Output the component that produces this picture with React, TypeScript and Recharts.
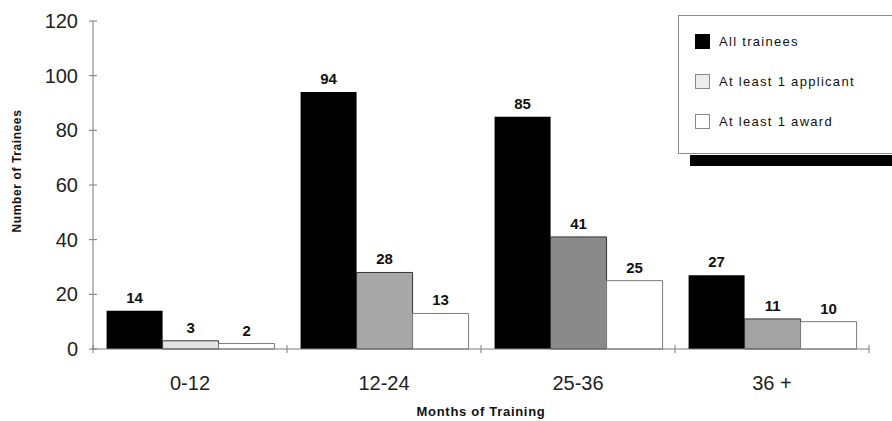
import React from 'react';
import { BarChart, Bar, XAxis, YAxis, Legend, LabelList, Cell, Label } from 'recharts';

const categories = ['0-12', '12-24', '25-36', '36 +'];
const allTrainees = [14, 94, 85, 27];
const atLeastOneApplicant = [3, 28, 41, 11];
const atLeastOneAward = [2, 13, 25, 10];
const yTicks = [0, 20, 40, 60, 80, 100, 120];

// the scanned stipple reads as different greys per bar
const applicantShades = ['#e4e4e4', '#a8a8a8', '#8a8a8a', '#a3a3a3'];

const data = categories.map((month, i) => ({
  month,
  all: allTrainees[i],
  applicant: atLeastOneApplicant[i],
  award: atLeastOneAward[i],
}));

const FONT = '"Liberation Sans", Arial, sans-serif';
const AXIS = '#7a7a7a';

const legendItems = [
  { label: 'All trainees', fill: '#000', stroke: '#000' },
  { label: 'At least 1 applicant', fill: '#ececec', stroke: '#888' },
  { label: 'At least 1 award', fill: '#fff', stroke: '#888' },
];

const LegendBox = () => (
  <div style={{ position: 'relative', width: 240, height: 152 }}>
    <div
      style={{
        position: 'absolute',
        left: 12,
        top: 140,
        width: 230,
        height: 11,
        background: '#000',
      }}
    />
    <div
      style={{
        position: 'absolute',
        left: 0,
        top: 0,
        width: 230,
        height: 139,
        background: '#fff',
        border: '1px solid #8a8a8a',
        boxSizing: 'border-box',
      }}
    >
      {legendItems.map((item, i) => (
        <div
          key={item.label}
          style={{
            position: 'absolute',
            left: 16,
            top: 18 + i * 40,
            display: 'flex',
            alignItems: 'center',
            fontFamily: FONT,
            fontSize: 13,
            letterSpacing: 1.3,
            color: '#111',
          }}
        >
          <span
            style={{
              display: 'inline-block',
              width: 15,
              height: 15,
              background: item.fill,
              border: `1px solid ${item.stroke}`,
              boxSizing: 'border-box',
              marginRight: 9,
            }}
          />
          {item.label}
        </div>
      ))}
    </div>
  </div>
);

const YTick = (props: any) => {
  const { x, y, payload } = props;
  return (
    <g>
      <line x1={x - 4} y1={y} x2={x + 4} y2={y} stroke={AXIS} />
      <text x={x - 15} y={y + 7} textAnchor="end" fontFamily={FONT} fontSize={20} fill="#222">
        {payload.value}
      </text>
    </g>
  );
};

const XTick = (props: any) => {
  const { x, y, payload, index, visibleTicksCount } = props;
  const half = 97;
  return (
    <g>
      <line x1={x - half} y1={y - 4} x2={x - half} y2={y + 4} stroke={AXIS} />
      {index === visibleTicksCount - 1 && (
        <line x1={x + half} y1={y - 4} x2={x + half} y2={y + 4} stroke={AXIS} />
      )}
      <text x={x} y={y + 41} textAnchor="middle" fontFamily={FONT} fontSize={20} fill="#222">
        {payload.value}
      </text>
    </g>
  );
};

const YTitle = (props: any) => {
  const vb = props.viewBox || { x: 0, y: 21, width: 93, height: 328 };
  const cx = 18;
  const cy = vb.y + vb.height / 2 - 14;
  return (
    <text
      x={cx}
      y={cy}
      transform={`rotate(-90 ${cx} ${cy})`}
      textAnchor="middle"
      dominantBaseline="middle"
      fontFamily={FONT}
      fontSize={12}
      fontWeight="bold"
      letterSpacing={0.6}
      fill="#111"
    >
      Number of Trainees
    </text>
  );
};

const valueLabel = { position: 'top' as const, offset: 8, fontFamily: FONT, fontSize: 15, fontWeight: 600, fill: '#111' };

export default function App() {
  return (
    <div style={{ position: 'absolute', left: 0, top: 0, width: 892, height: 421, overflow: 'hidden', background: '#fff' }}>
      <BarChart
        width={892}
        height={421}
        data={data}
        margin={{ top: 21, right: 23, left: 0, bottom: 0 }}
        barGap={0}
        barCategoryGap="7%"
      >
        <XAxis
          dataKey="month"
          height={72}
          tickSize={0}
          tickMargin={0}
          tick={<XTick />}
          axisLine={{ stroke: AXIS }}
          interval={0}
        >
          <Label
            value="Months of Training"
            position="insideBottom"
            offset={5}
            fontFamily={FONT}
            fontSize={13}
            fontWeight="bold"
            letterSpacing={0.7}
            fill="#111"
          />
        </XAxis>
        <YAxis
          width={93}
          domain={[0, 120]}
          ticks={yTicks}
          tickSize={0}
          tickMargin={0}
          tick={<YTick />}
          axisLine={{ stroke: AXIS }}
          interval={0}
        >
          <Label content={<YTitle />} />
        </YAxis>
        <Legend
          layout="vertical"
          align="center"
          verticalAlign="middle"
          wrapperStyle={{ position: 'absolute', left: 678, top: 15, width: 240, height: 152 }}
          content={<LegendBox />}
        />
        <Bar dataKey="all" name="All trainees" fill="#000" isAnimationActive={false}>
          <LabelList dataKey="all" {...valueLabel} />
        </Bar>
        <Bar dataKey="applicant" name="At least 1 applicant" stroke="#333" strokeWidth={1} isAnimationActive={false}>
          {data.map((d, i) => (
            <Cell key={d.month} fill={applicantShades[i]} />
          ))}
          <LabelList dataKey="applicant" {...valueLabel} />
        </Bar>
        <Bar dataKey="award" name="At least 1 award" fill="#fff" stroke="#7a7a7a" strokeWidth={1} isAnimationActive={false}>
          <LabelList dataKey="award" {...valueLabel} />
        </Bar>
      </BarChart>
    </div>
  );
}
